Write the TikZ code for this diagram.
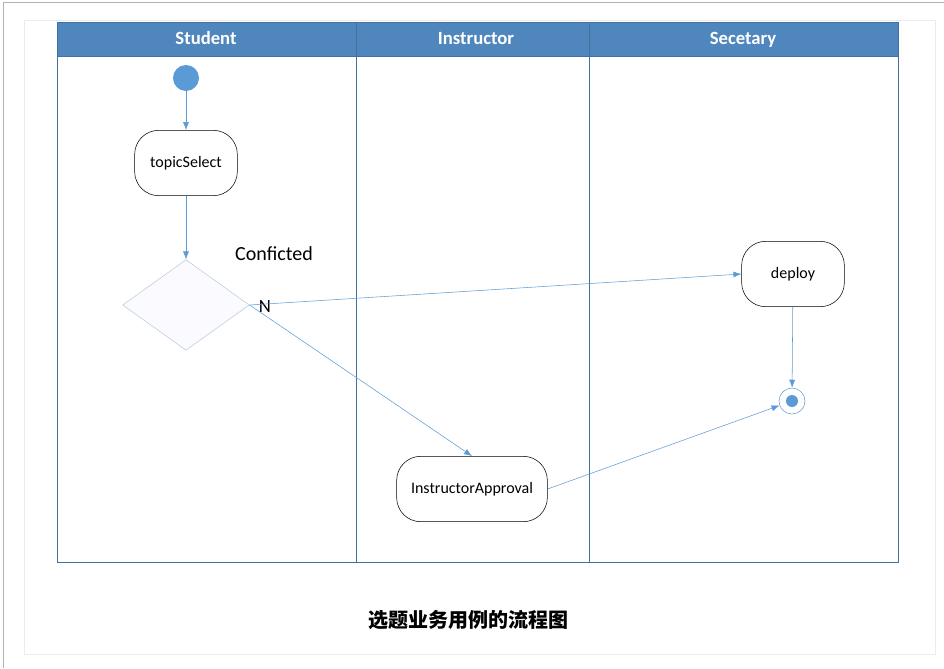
\documentclass[tikz,border=0pt]{standalone}
\usepackage{fontspec}
\setmainfont{Carlito}
\newfontfamily\cjk{Noto Sans CJK SC}
\usepackage{xcolor}
\usetikzlibrary{shapes.geometric, arrows.meta}

\definecolor{laneblue}{HTML}{4F86BE}
\definecolor{laneline}{HTML}{41719C}
\definecolor{flowblue}{HTML}{5B9BD5}
\definecolor{diamondline}{HTML}{B8CCDC}

\begin{document}
\begin{tikzpicture}
[
  x=0.75pt, y=-0.75pt,
  activity/.style  = {shape=rectangle, rounded corners=18pt, draw=black,
                      thin, minimum width=77pt, minimum height=49pt,
                      font=\fontsize{12}{14}\selectfont},
  decision/.style  = {shape=diamond, draw=diamondline, fill=blue!2,
                      minimum width=95pt, minimum height=68pt, inner sep=0pt},
  initial/.style   = {shape=circle, fill=flowblue, minimum size=19.5pt,
                      inner sep=0pt},
  final/.style     = {shape=circle, draw=flowblue, minimum size=19.5pt,
                      inner sep=0pt,
                      path picture={\fill[flowblue]
                        (path picture bounding box.center) circle (4.5pt);}},
  lanehead/.style  = {text=white, text height=1.6ex, text depth=0.4ex,
                      font=\fontsize{14}{16}\selectfont\bfseries},
  flow/.style      = {draw=flowblue, -{Latex[length=6pt, width=4.5pt]}},
  label/.style     = {font=\fontsize{15}{17}\selectfont}
]
% page frames
\useasboundingbox (0,0) rectangle (944,668);
\draw[black!30] (3,668) -- (3,2) -- (944,2);
\draw[black!8] (24,20) rectangle (935,654);

% swimlanes
\fill[laneblue] (57,22) rectangle (898,56);
\draw[laneline] (57,22) rectangle (898,562);
\draw[laneline] (57,56) -- (898,56);
\draw[laneline] (356,22) -- (356,562);
\draw[laneline] (589,22) -- (589,562);
\node [lanehead] (student) at (206,41) {Student};
\node [lanehead] (instructor) at (476,41) {Instructor};
\node [lanehead] (secretary) at (743,41) {Secetary};

% activities
\node [initial] (start) at (186,78) {};
\node [activity] (topic) at (186,163) {topicSelect};
\node [decision] (conflict) at (186,305) {};
\node [label] (conflicted) at (274,254) {Conficted};
\node [label, font=\fontsize{14}{16}\selectfont] (no) at (265,307) {N};
\node [activity] (deploy) at (793,274) {deploy};
\node [activity, minimum width=113pt] (approval) at (472,489) {InstructorApproval};
\node [final] (end) at (792,401) {};

% flows
\draw [flow] (start) -- (topic);
\draw [flow] (topic) -- (conflict);
\draw [flow] (conflict.east) -- (deploy.west);
\draw [flow] (conflict.east) -- (approval.north);
\draw [flow] (deploy) -- (end);
\draw [flow] (approval.east) -- (end);

% caption
\node [font=\cjk\fontsize{15}{18}\selectfont\bfseries] (caption) at (468,620)
  {选题业务用例的流程图};
\end{tikzpicture}
\end{document}
